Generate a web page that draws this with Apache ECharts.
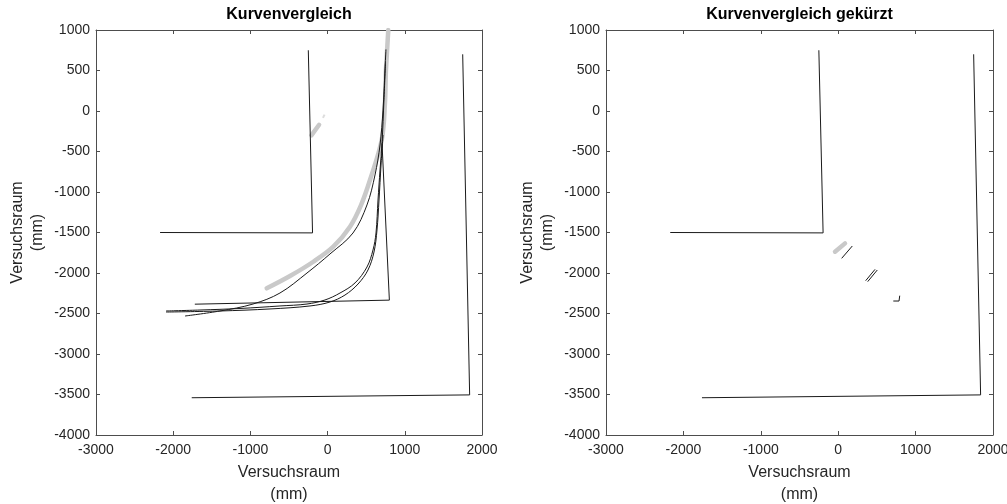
<!DOCTYPE html>
<html>
<head>
<meta charset="utf-8">
<script src="https://cdn.jsdelivr.net/npm/echarts@6/dist/echarts.min.js"></script>
<style>
html,body{margin:0;padding:0;background:#fff;}
#chart{width:1007px;height:504px;}
</style>
</head>
<body>
<div id="chart"></div>
<script>
// ---- data (mm) ----
const titles = ['Kurvenvergleich', 'Kurvenvergleich gekürzt'];
const axisName = 'Versuchsraum\n(mm)';
const xRange = [-3000, 2000];
const xStep = 1000;
const yRange = [-4000, 1000];
const yStep = 500;

// straight reference paths (both panels)
const pathCornerSmall = [[-2170, -1500], [-195, -1505], [-250, 750]];
const pathCornerLarge = [[-1760, -3540], [1840, -3505], [1750, 700]];
// left panel only
const pathTriangle = [[-1720, -2385], [800, -2335], [705, -400]];
const curveOuter = [[-1847, -2531], [-1394, -2469], [-966, -2383], [-617, -2247], [-267, -2000], [31, -1765], [329, -1506], [510, -1160], [614, -790], [679, -420], [718, 12], [743, 506], [756, 760]];
const curveInner1 = [[-2093, -2469], [-1653, -2457], [-1135, -2438], [-617, -2407], [-267, -2383], [-34, -2333], [161, -2247], [355, -2123], [510, -1926], [588, -1716], [627, -1506], [653, -1099], [679, -728], [705, -395], [730, 136], [750, 600]];
const curveInner2 = [[-2093, -2482], [-1394, -2469], [-746, -2444], [-228, -2407], [31, -2358], [225, -2272], [394, -2136], [523, -1963], [601, -1741], [640, -1469], [666, -1099], [692, -667], [718, -296]];
const curveTarget = [[-789, -2189], [-487, -2037], [-185, -1861], [74, -1675], [290, -1428], [433, -1161], [549, -852], [701, -358], [743, 99], [756, 506], [786, 1000]];
const targetFragment = [[-210, -300], [-110, -170]];
const targetDot = [[-60, -85], [-40, -45]];
// right panel (cut pieces)
const cutTarget = [[-41, -1737], [88, -1634]];
const cutA = [[45, -1819], [182, -1667]];
const cutB = [[355, -2095], [476, -1955]];
const cutC = [[381, -2107], [505, -1963]];
const cutD = [[712, -2346], [786, -2346], [795, -2280]];

// ---- chart ----
const FONT = 'Liberation Sans, Arial, sans-serif';
const AXIS_COLOR = '#4d4d4d';
const TEXT_COLOR = '#262626';
const grids = [
  {left: 96, top: 30, width: 386, height: 405},
  {left: 606, top: 30, width: 387, height: 405}
];
const plain = v => String(v);

function mkX(gi, pos) {
  const main = pos === 'bottom';
  return {
    gridIndex: gi, type: 'value', position: pos,
    min: xRange[0], max: xRange[1], interval: xStep,
    axisLine: {show: true, onZero: false, lineStyle: {color: AXIS_COLOR, width: 1}},
    axisTick: {show: true, inside: true, length: 4, lineStyle: {color: AXIS_COLOR}},
    axisLabel: {show: main, margin: 8, fontSize: 14, fontFamily: FONT, color: TEXT_COLOR, formatter: plain},
    splitLine: {show: false},
    name: main ? axisName : '',
    nameLocation: 'middle', nameGap: 27,
    nameTextStyle: {fontSize: 16, fontFamily: FONT, color: TEXT_COLOR, lineHeight: 22}
  };
}
function mkY(gi, pos) {
  const main = pos === 'left';
  return {
    gridIndex: gi, type: 'value', position: pos,
    min: yRange[0], max: yRange[1], interval: yStep,
    axisLine: {show: true, onZero: false, lineStyle: {color: AXIS_COLOR, width: 1}},
    axisTick: {show: true, inside: true, length: 4, lineStyle: {color: AXIS_COLOR}},
    axisLabel: {show: main, margin: 6, fontSize: 14, fontFamily: FONT, color: TEXT_COLOR, formatter: plain},
    splitLine: {show: false},
    name: main ? axisName : '',
    nameLocation: 'middle', nameGap: 48,
    nameTextStyle: {fontSize: 16, fontFamily: FONT, color: TEXT_COLOR, lineHeight: 20}
  };
}

const xAxes = [mkX(0, 'bottom'), mkX(0, 'top'), mkX(1, 'bottom'), mkX(1, 'top')];
const yAxes = [mkY(0, 'left'), mkY(0, 'right'), mkY(1, 'left'), mkY(1, 'right')];

function line(panel, data, kind, smooth) {
  const thick = kind === 'target';
  return {
    type: 'line', data: data,
    xAxisIndex: panel * 2, yAxisIndex: panel * 2,
    showSymbol: false, symbol: 'none', silent: true,
    smooth: smooth ? 0.35 : false,
    lineStyle: thick ? {color: '#c9c9c9', width: 4.5, cap: 'round'} : {color: '#1a1a1a', width: 1},
    z: thick ? 2 : 3,
    animation: false
  };
}

const series = [
  line(0, curveTarget, 'target', true),
  line(0, targetFragment, 'target', false),
  Object.assign(line(0, targetDot, 'target', false), {lineStyle: {color: '#dddddd', width: 2}}),
  line(0, pathCornerSmall, 'path', false),
  line(0, pathCornerLarge, 'path', false),
  line(0, pathTriangle, 'path', false),
  line(0, curveOuter, 'path', true),
  line(0, curveInner1, 'path', true),
  line(0, curveInner2, 'path', true),
  line(1, pathCornerSmall, 'path', false),
  line(1, pathCornerLarge, 'path', false),
  line(1, cutTarget, 'target', false),
  line(1, cutA, 'path', false),
  line(1, cutB, 'path', false),
  line(1, cutC, 'path', false),
  line(1, cutD, 'path', false)
];

const chart = echarts.init(document.getElementById('chart'), null, {renderer: 'canvas'});
chart.setOption({
  animation: false,
  backgroundColor: '#ffffff',
  grid: grids.map(g => Object.assign({outerBoundsMode: 'none', containLabel: false}, g)),
  xAxis: xAxes,
  yAxis: yAxes,
  graphic: titles.map((t, i) => ({
    type: 'text',
    x: grids[i].left + grids[i].width / 2,
    y: 7,
    style: {text: t, textAlign: 'center', textVerticalAlign: 'top', font: 'bold 16px ' + FONT, fill: '#000'}
  })),
  series: series
});
</script>
</body>
</html>
